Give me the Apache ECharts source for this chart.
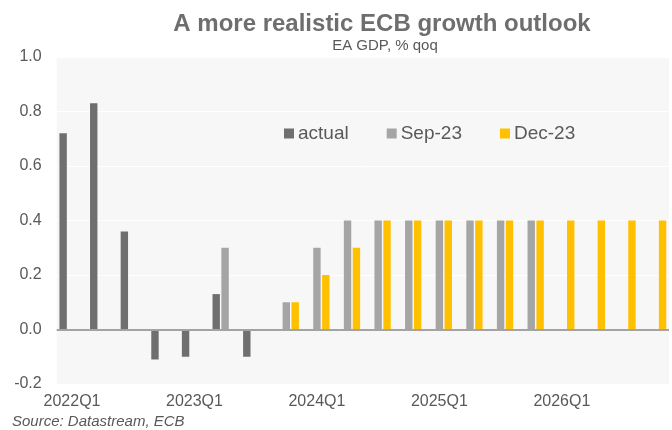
<!DOCTYPE html>
<html>
<head>
<meta charset="utf-8">
<script src="https://cdn.jsdelivr.net/npm/echarts@6/dist/echarts.min.js"></script>
<style>
html,body{margin:0;padding:0;background:#fff;}
#chart{width:672px;height:430px;}
</style>
</head>
<body>
<div id="chart"></div>
<script>
var categories = ['2022Q1','2022Q2','2022Q3','2022Q4','2023Q1','2023Q2','2023Q3','2023Q4',
  '2024Q1','2024Q2','2024Q3','2024Q4','2025Q1','2025Q2','2025Q3','2025Q4',
  '2026Q1','2026Q2','2026Q3','2026Q4'];
var actual = [0.72,0.83,0.36,-0.11,-0.10,0.13,-0.10,null,null,null,null,null,null,null,null,null,null,null,null,null];
var sep23 = [null,null,null,null,null,0.3,null,0.1,0.3,0.4,0.4,0.4,0.4,0.4,0.4,0.4,null,null,null,null];
var dec23 = [null,null,null,null,null,null,null,0.1,0.2,0.3,0.4,0.4,0.4,0.4,0.4,0.4,0.4,0.4,0.4,0.4];
var yTicks = {min:-0.2, max:1.0, interval:0.2};

var FONT = '"Liberation Sans", Arial, sans-serif';
var TXT = '#595959';
var chart = echarts.init(document.getElementById('chart'), null, {renderer:'canvas'});
chart.setOption({
  animation:false,
  backgroundColor:'#ffffff',
  title:[
    {text:'A more realistic ECB growth outlook', left:382, top:12, textAlign:'center', padding:0,
     textStyle:{fontFamily:FONT, fontSize:24, fontWeight:'bold', color:'#6e6e6e'}},
    {text:'EA GDP, % qoq', left:385, top:38, textAlign:'center', padding:0,
     textStyle:{fontFamily:FONT, fontSize:15, fontWeight:'normal', color:TXT}},
    {text:'Source: Datastream, ECB', left:12, top:414, padding:0,
     textStyle:{fontFamily:FONT, fontSize:15, fontWeight:'normal', fontStyle:'italic', color:TXT}}
  ],
  legend:{
    left:284, top:124, padding:0, icon:'rect', itemWidth:10, itemHeight:10, itemGap:38,
    textStyle:{fontFamily:FONT, fontSize:19, color:TXT, padding:[0,0,0,-1]},
    data:['actual','Sep-23','Dec-23']
  },
  grid:{left:56.7, right:3, top:57, bottom:46, show:true, backgroundColor:'#f7f7f7', borderWidth:0, containLabel:false},
  xAxis:{
    type:'category', data:categories,
    axisLine:{show:false, onZero:false}, axisTick:{show:false},
    axisLabel:{interval:3, margin:10, fontFamily:FONT, fontSize:16, color:TXT},
    splitLine:{show:false}
  },
  yAxis:{
    type:'value', min:yTicks.min, max:yTicks.max, interval:yTicks.interval,
    axisLine:{show:false}, axisTick:{show:false},
    axisLabel:{margin:15, fontFamily:FONT, fontSize:16, color:TXT,
      formatter:function(v){return v.toFixed(1);}},
    splitLine:{show:true, lineStyle:{color:'#ffffff', width:1}}
  },
  series:[
    {name:'actual', type:'bar', data:actual, barWidth:7.4, barGap:'20%',
     itemStyle:{color:'#6f6f6f'},
     markLine:{silent:true, symbol:['none','none'], label:{show:false},
       lineStyle:{color:'#a3a3a3', width:2, type:'solid'}, data:[{yAxis:0}]}},
    {name:'Sep-23', type:'bar', data:sep23, barWidth:7.4, barGap:'20%', itemStyle:{color:'#a5a5a5'}},
    {name:'Dec-23', type:'bar', data:dec23, barWidth:7.4, barGap:'20%', itemStyle:{color:'#ffc000'}}
  ]
});
</script>
</body>
</html>
